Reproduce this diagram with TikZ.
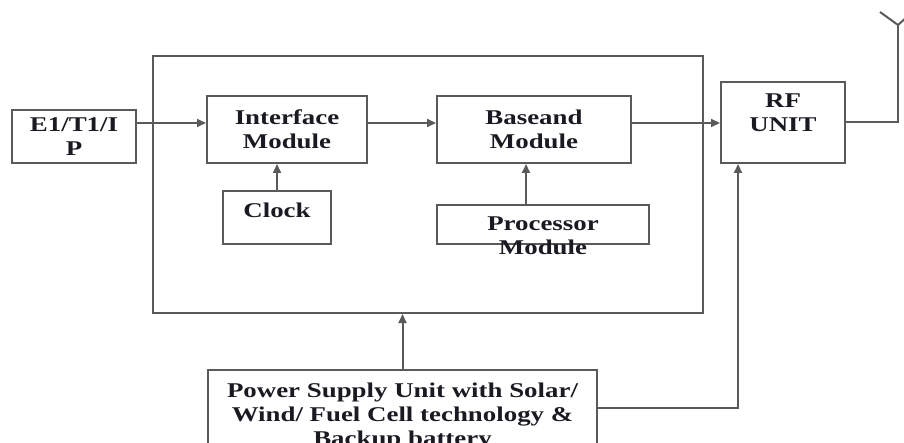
\documentclass[tikz,border=0pt]{standalone}
\usepackage{fontspec}
\setmainfont{Liberation Serif}[FakeStretch=1.28]
\usetikzlibrary{arrows.meta}
\definecolor{linegray}{HTML}{5A5A5A}
\definecolor{inkblack}{HTML}{1A1A22}
\newcommand{\blockfont}{\fontsize{21}{24}\selectfont\bfseries}

\begin{document}
\begin{tikzpicture}[x=1pt, y=-1pt,
    blk/.style={draw=linegray, line width=2pt, align=center, font=\blockfont, text=inkblack, inner sep=0pt},
    txt/.style={align=center, font=\blockfont, text=inkblack},
    wire/.style={draw=linegray, line width=2pt},
    arr/.style={wire, -{Triangle[length=9pt,width=8pt]}}]
    \useasboundingbox (0,0) rectangle (904,443);

    \node[blk, minimum width=550pt, minimum height=257pt] (bts) at (428,184.5) {};
    \node[blk, minimum width=124pt, minimum height=53pt] (e1) at (74,136.5) {E1/T1/I\\P};
    \node[blk, minimum width=160pt, minimum height=67pt] (iface) at (287,129.5) {Interface\\Module};
    \node[blk, minimum width=194pt, minimum height=67pt] (base) at (534,129.5) {Baseand\\Module};
    \node[blk, minimum width=124pt, minimum height=81pt,
        label={[txt, yshift=10pt]center:RF\\UNIT}] (rf) at (783,122.5) {};
    \node[blk, minimum width=108pt, minimum height=53pt,
        label={[txt, yshift=7pt]center:Clock}] (clk) at (277,217.5) {};
    \node[blk, minimum width=212pt, minimum height=39pt,
        label={[txt, yshift=-11pt]center:Processor\\Module}] (proc) at (543,224.5) {};
    \node[blk, minimum width=389pt, minimum height=98pt,
        label={[txt, yshift=3pt]center:{Power Supply Unit with Solar/\\Wind/ Fuel Cell technology \&\\Backup battery}}]
        (psu) at (402.5,419) {};

    \coordinate (e1out) at ([yshift=13.5pt]e1.east);
    \coordinate (ifout) at ([yshift=6.5pt]iface.east);
    \coordinate (bsout) at ([yshift=6.5pt]base.east);
    \coordinate (procout) at ([xshift=-17pt]proc.north);
    \coordinate (psuout) at ([yshift=11pt]psu.east);
    \coordinate (rfin) at ([xshift=-45pt]rf.south);
    \coordinate (antenna) at (898,25);

    \draw[arr] (e1out) -- (e1out -| iface.west);
    \draw[arr] (ifout) -- (ifout -| base.west);
    \draw[arr] (bsout) -- (bsout -| rf.west);
    \draw[arr] (clk.north) -- (clk.north |- iface.south);
    \draw[arr] (procout) -- (procout |- base.south);
    \draw[arr] (psu.north) -- (psu.north |- bts.south);
    \draw[arr] (psuout) -| (rfin);

    \draw[wire] (rf.east) -| (antenna);
    \draw[wire] (antenna) -- ++(-18,-13) (antenna) -- ++(10,-9);
\end{tikzpicture}
\end{document}
